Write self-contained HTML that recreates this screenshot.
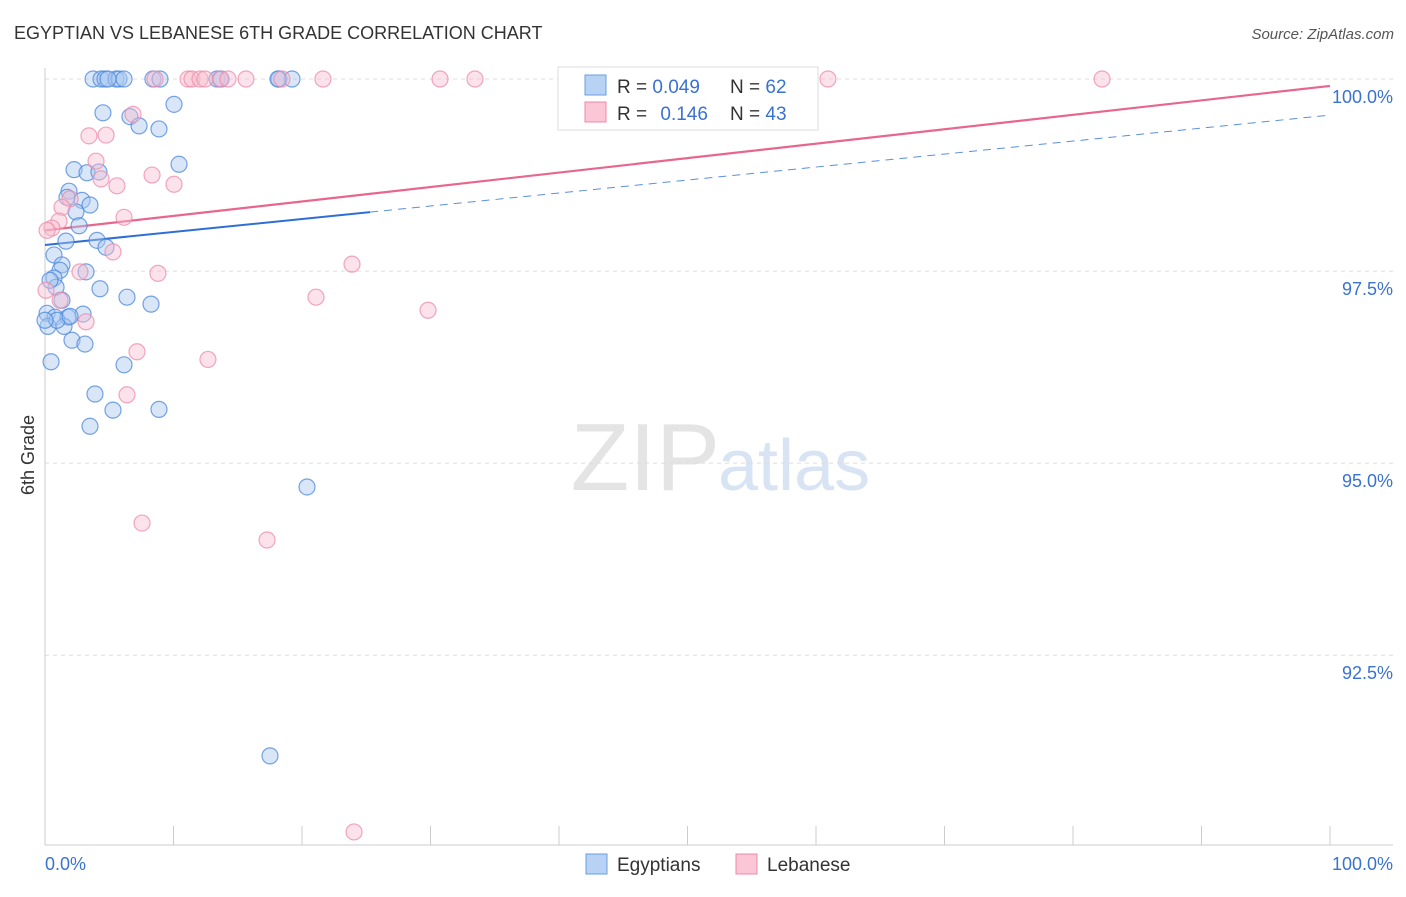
<!DOCTYPE html>
<html><head><meta charset="utf-8"><style>
body{margin:0;background:#fff;font-family:"Liberation Sans",sans-serif}
svg text{font-family:"Liberation Sans",sans-serif}
</style></head><body>
<svg id="chart" width="1406" height="892" xmlns="http://www.w3.org/2000/svg">
<text x="14" y="39" font-size="18" fill="#333">EGYPTIAN VS LEBANESE 6TH GRADE CORRELATION CHART</text>
<text x="1394" y="39" font-size="15" fill="#555" font-style="italic" text-anchor="end">Source: ZipAtlas.com</text>
<text x="720" y="490" font-size="96" fill="#e4e4e4" text-anchor="end" font-family="Liberation Serif">ZIP</text>
<text x="718" y="490" font-size="72" fill="#d8e4f4">atlas</text>
<text x="34" y="455" font-size="18" fill="#333" transform="rotate(-90 34 455)" text-anchor="middle">6th Grade</text>
<g id="grid"></g><g id="axes"></g><g id="lines"></g><g id="pts"></g>
<g>
<rect x="558" y="67" width="260" height="63" fill="#fff" stroke="#ddd"/>
<rect x="585" y="75" width="21" height="20" fill="#b7d2f5" stroke="#6a9de0"/>
<rect x="585" y="102" width="21" height="20" fill="#fbc6d6" stroke="#ee8aa8"/>
<text x="617" y="93" font-size="19" fill="#333">R = <tspan fill="#3a72d0">0.049</tspan></text>
<text x="730" y="93" font-size="19" fill="#333">N = <tspan fill="#3a72d0">62</tspan></text>
<text x="617" y="120" font-size="19" fill="#333">R = <tspan fill="#3a72d0" dx="8">0.146</tspan></text>
<text x="730" y="120" font-size="19" fill="#333">N = <tspan fill="#3a72d0">43</tspan></text>
</g>
<g>
<rect x="586" y="854" width="21" height="20" fill="#b7d2f5" stroke="#6a9de0"/>
<text x="617" y="871" font-size="19" fill="#333">Egyptians</text>
<rect x="736" y="854" width="21" height="20" fill="#fbc6d6" stroke="#ee8aa8"/>
<text x="767" y="871" font-size="19" fill="#333">Lebanese</text>
</g>
</svg>
<script>
const yTicks=[100,97.5,95,92.5];
const yTickLabels=["100.0%","97.5%","95.0%","92.5%"];
const xTickLabels=["0.0%","100.0%"];
const egyX=[3.74,4.36,4.67,5.53,5.76,6.15,8.40,8.95,13.39,13.70,18.21,19.22,4.51,10.04,6.61,7.32,8.87,10.43,2.26,3.27,4.20,1.87,1.71,2.88,3.50,2.41,2.65,1.63,4.05,4.75,0.70,1.32,1.17,3.19,0.70,0.86,4.28,6.38,8.25,1.32,0.16,0.78,2.96,1.79,1.48,0.23,2.10,3.11,0.47,6.15,3.89,5.29,8.87,3.50,20.39,17.51,0.93,1.95,0,4.90,18.13,0.39];
const egyY=[100,100,100,100,100,100,100,100,100,100,100,100,99.56,99.67,99.51,99.39,99.35,98.89,98.82,98.78,98.79,98.54,98.46,98.42,98.36,98.27,98.09,97.89,97.90,97.81,97.71,97.58,97.51,97.49,97.41,97.29,97.27,97.16,97.07,97.12,96.95,96.90,96.94,96.90,96.78,96.78,96.60,96.55,96.32,96.28,95.90,95.69,95.70,95.48,94.69,91.19,96.86,96.91,96.86,100,100,97.38];
const lebX=[8.56,11.13,11.44,12.06,12.45,13.62,14.24,15.64,18.44,21.63,30.74,33.46,60.93,82.26,6.85,3.42,4.75,3.97,4.36,5.60,8.33,10.04,1.95,1.32,1.09,0.54,6.15,5.29,2.72,8.79,23.89,21.09,29.81,1.17,3.19,7.16,12.68,6.38,7.55,17.28,24.05,0.08,0.16];
const lebY=[100,100,100,100,100,100,100,100,100,100,100,100,100,100,99.54,99.26,99.27,98.93,98.70,98.61,98.75,98.63,98.44,98.33,98.15,98.06,98.20,97.75,97.49,97.47,97.59,97.16,96.99,97.12,96.84,96.45,96.35,95.89,94.22,94.00,90.20,97.25,98.03];
const egyTrend=[97.84,99.53];
const lebTrend=[98.03,99.91];
const egySolidEnd=25.3;

const NS="http://www.w3.org/2000/svg";
const X0=45,X1=1330,Y0=845,Y1=79,YMIN=90.03,YMAX=100;
const sx=v=>X0+(v/100)*(X1-X0);
const sy=v=>Y0-(v-YMIN)/(YMAX-YMIN)*(Y0-Y1);
function mk(tag,attrs,parent){const e=document.createElementNS(NS,tag);for(const k in attrs)e.setAttribute(k,attrs[k]);document.getElementById(parent).appendChild(e);return e;}
yTicks.forEach((t,i)=>{
  const g=mk('line',{x1:X0,x2:1393,y1:sy(t),y2:sy(t),stroke:'#ddd','stroke-dasharray':'4,4'},'grid');
  
  
  const tx=mk('text',{x:1393,y:sy(t)+24,'font-size':18,fill:'#3a72d0','text-anchor':'end'},'axes');
  tx.textContent=yTickLabels[i];
  
  
});
const ax=mk('line',{x1:X0,x2:X0,y1:68,y2:Y0,stroke:'#ccc'},'axes');


const bx=mk('line',{x1:X0,x2:1393,y1:Y0,y2:Y0,stroke:'#ccc'},'axes');


for(let i=0;i<=10;i++){
  const t=mk('line',{x1:sx(i*10),x2:sx(i*10),y1:826,y2:Y0,stroke:'#ccc'},'axes');
  
  
}
const xl0=mk('text',{x:45,y:870,'font-size':18,fill:'#3a72d0'},'axes');xl0.textContent=xTickLabels[0];


const xl1=mk('text',{x:1393,y:870,'font-size':18,fill:'#3a72d0','text-anchor':'end'},'axes');xl1.textContent=xTickLabels[1];


const tv=(tr,x)=>tr[0]+(tr[1]-tr[0])*x/100;
function pts(xs,ys,fill,stroke,name){xs.forEach((x,i)=>{
  const c=mk('circle',{cx:sx(x),cy:sy(ys[i]),r:8,fill:fill,'fill-opacity':0.45,stroke:stroke,'stroke-opacity':0.75,'stroke-width':1.2},'pts');
  
  
});}
pts(egyX,egyY,'#a9c8f0','#4a86dc','egyptians-point');
pts(lebX,lebY,'#f8bfd0','#ee8aa8','lebanese-point');
const l1=mk('line',{x1:sx(0),y1:sy(tv(egyTrend,0)),x2:sx(egySolidEnd),y2:sy(tv(egyTrend,egySolidEnd)),stroke:'#2f6fd4','stroke-width':2},'lines');


const l2=mk('line',{x1:sx(egySolidEnd),y1:sy(tv(egyTrend,egySolidEnd)),x2:sx(100),y2:sy(tv(egyTrend,100)),stroke:'#5a8fdc','stroke-width':1,'stroke-dasharray':'8,6'},'lines');


const l3=mk('line',{x1:sx(0),y1:sy(tv(lebTrend,0)),x2:sx(100),y2:sy(tv(lebTrend,100)),stroke:'#e8668e','stroke-width':2.2},'lines');


</script>
</body></html>
